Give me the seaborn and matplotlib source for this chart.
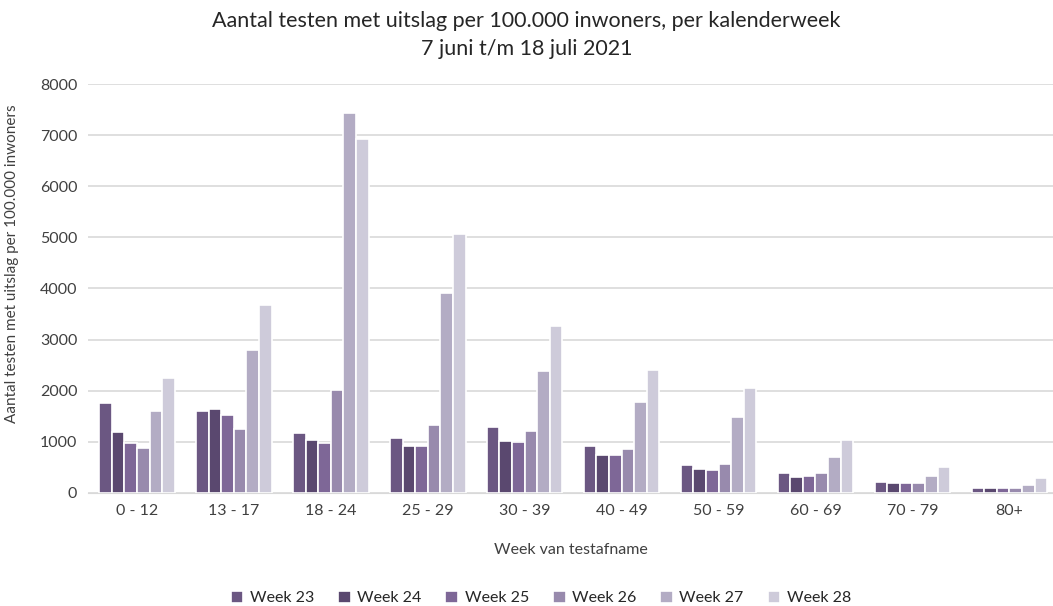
import numpy as np
import pandas as pd
import matplotlib.pyplot as plt
import seaborn as sns

# leeftijdsgroepen en waarden per week
age_groups = ['0 - 12', '13 - 17', '18 - 24', '25 - 29', '30 - 39',
              '40 - 49', '50 - 59', '60 - 69', '70 - 79', '80+']
weeks = ['Week 23', 'Week 24', 'Week 25', 'Week 26', 'Week 27', 'Week 28']

week23 = [1750, 1595, 1175, 1075, 1285, 920, 540, 390, 205, 100]
week24 = [1180, 1640, 1030, 915, 1010, 730, 455, 315, 180, 87]
week25 = [965, 1520, 970, 915, 1000, 745, 445, 325, 180, 87]
week26 = [880, 1245, 2015, 1325, 1200, 850, 570, 390, 195, 87]
week27 = [1590, 2785, 7445, 3920, 2375, 1780, 1475, 705, 320, 155]
week28 = [2245, 3670, 6920, 5060, 3270, 2405, 2045, 1030, 495, 280]

colors = ['#6b5089', '#5a4275', '#7d5f9f', '#9784b3', '#b2a8c8', '#cdc8dc']

df = pd.DataFrame({'leeftijd': age_groups * 6,
                   'week': np.repeat(weeks, len(age_groups)),
                   'waarde': week23 + week24 + week25 + week26 + week27 + week28})

sns.set_style('white')
plt.rcParams['font.family'] = ['Lato', 'DejaVu Sans']

fig = plt.figure(figsize=(10.53, 6.06), dpi=100)
ax = fig.add_axes([0.084, 0.187, 0.916, 0.674])

sns.barplot(data=df, x='leeftijd', y='waarde', hue='week', palette=colors,
            width=0.78, edgecolor='white', linewidth=1.2, ax=ax, legend=True)

ax.set_ylim(0, 8000)
ax.set_xlim(-0.5, 9.45)
ax.set_yticks(range(0, 8001, 1000))
ax.yaxis.grid(True, color='#d9d9d9', linewidth=1.2)
ax.set_axisbelow(True)
sns.despine(ax=ax, left=True, top=True, right=True)
ax.spines['bottom'].set_color('#d9d9d9')
ax.tick_params(axis='both', length=0, labelsize=11.5, colors='#404040', pad=8)

ax.set_xlabel('Week van testafname', fontsize=11.5, color='#404040', labelpad=18)
ax.set_ylabel('Aantal testen met uitslag per 100.000 inwoners', fontsize=11,
              color='#404040', labelpad=14)
ax.yaxis.set_label_coords(-0.072, 0.56)

fig.suptitle('Aantal testen met uitslag per 100.000 inwoners, per kalenderweek\n7 juni t/m 18 juli 2021',
             fontsize=15.5, color='#262626', y=0.982, linespacing=1.5)

ax.legend(loc='upper center', bbox_to_anchor=(0.469, -0.205), ncol=6, frameon=False,
          fontsize=11.5, handlelength=0.8, handleheight=0.8, handletextpad=0.4,
          columnspacing=1.5, labelcolor='#262626')

fig.savefig('out.png', dpi=100)
